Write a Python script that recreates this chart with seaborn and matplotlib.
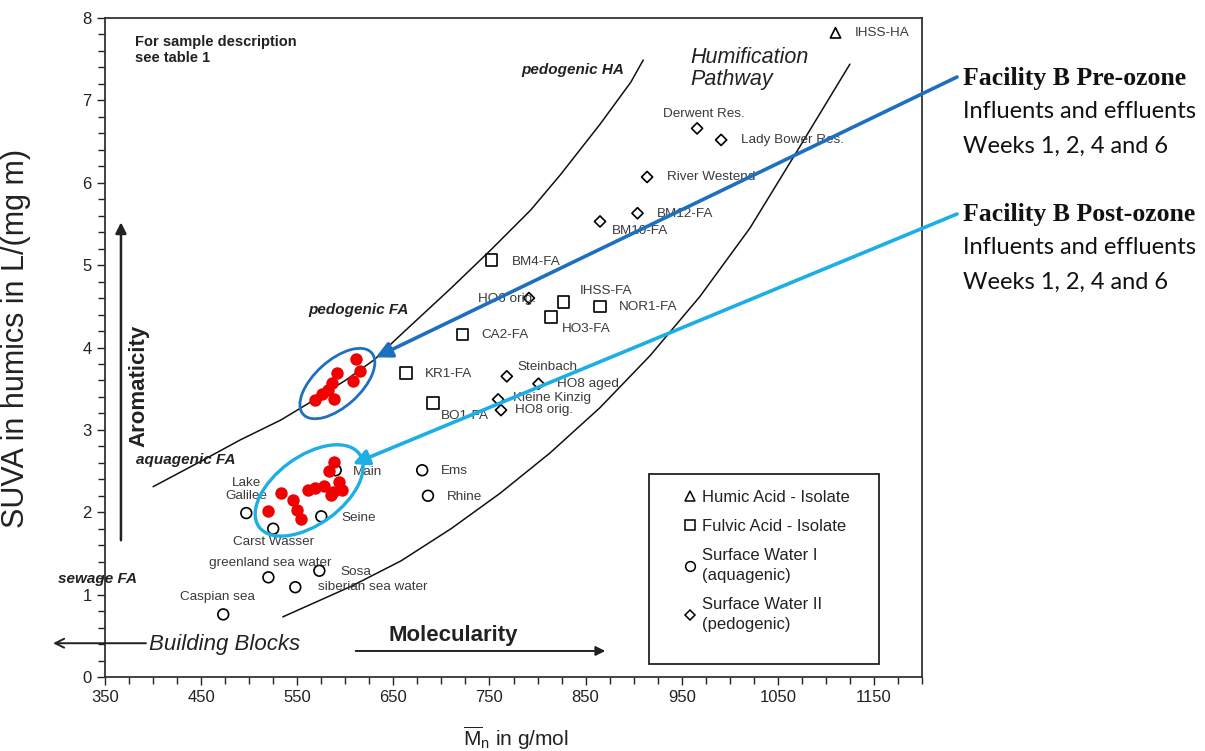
import numpy as np
import pandas as pd
import matplotlib
matplotlib.use("Agg")
import matplotlib.pyplot as plt
import matplotlib.transforms as mtransforms
from matplotlib.patches import Ellipse, Rectangle
from matplotlib.lines import Line2D
from matplotlib.ticker import MultipleLocator
import seaborn as sns

# ---------------- data ----------------
sample_names = ["IHSS-HA", "Derwent Res.", "Lady Bower Res.", "River Westend", "BM12-FA",
                "BM10-FA", "BM4-FA", "HO6 orig.", "IHSS-FA", "NOR1-FA", "HO3-FA", "CA2-FA",
                "KR1-FA", "BO1-FA", "Steinbach", "HO8 aged", "Kleine Kinzig", "HO8 orig.",
                "Ems", "Rhine", "Seine", "Main", "Lake Galilee", "Carst Wasser",
                "greenland sea water", "Sosa", "siberian sea water", "Caspian sea"]
sample_labels = ["IHSS-HA", "Derwent Res.", "Lady Bower Res.", "River Westend", "BM12-FA",
                 "BM10-FA", "BM4-FA", "HO6 orig.", "IHSS-FA", "NOR1-FA", "HO3-FA", "CA2-FA",
                 "KR1-FA", "BO1-FA", "Steinbach", "HO8 aged", "Kleine Kinzig", "HO8 orig.",
                 "Ems", "Rhine", "Seine", "Main", "Lake\nGalilee", "Carst Wasser",
                 "greenland sea water", "Sosa", "siberian sea water", "Caspian sea"]
sample_mn = [1110, 966, 991, 914, 904, 865, 752, 791, 827, 865, 814, 722, 663, 691,
             768, 801, 759, 762, 680, 686, 575, 590, 497, 525, 520, 573, 548, 473]
sample_suva = [7.82, 6.66, 6.52, 6.07, 5.63, 5.53, 5.06, 4.60, 4.55, 4.50, 4.37, 4.16,
               3.69, 3.33, 3.65, 3.56, 3.37, 3.24, 2.51, 2.20, 1.95, 2.51, 1.99, 1.80,
               1.21, 1.29, 1.09, 0.76]
HA, FA, SW1, SW2 = ("Humic Acid - Isolate", "Fulvic Acid - Isolate",
                    "Surface Water I\n(aquagenic)", "Surface Water II\n(pedogenic)")
sample_type = [HA, SW2, SW2, SW2, SW2, SW2, FA, SW2, FA, FA, FA, FA, FA, FA,
               SW2, SW2, SW2, SW2, SW1, SW1, SW1, SW1, SW1, SW1, SW1, SW1, SW1, SW1]

pre_mn = [611, 615, 608, 591, 586, 582, 588, 569, 576]
pre_suva = [3.86, 3.71, 3.59, 3.69, 3.57, 3.48, 3.37, 3.36, 3.43]
post_mn = [588, 583, 533, 520, 546, 550, 554, 561, 569, 578, 587, 593, 597, 585]
post_suva = [2.61, 2.50, 2.23, 2.01, 2.15, 2.03, 1.92, 2.27, 2.29, 2.32, 2.25, 2.37, 2.27, 2.21]

upper_curve_mn = [400, 450, 491, 533, 567, 600, 630, 661, 710, 751, 793, 824, 865, 897, 910]
upper_curve_suva = [2.31, 2.62, 2.88, 3.12, 3.36, 3.60, 3.85, 4.19, 4.72, 5.18, 5.67,
                    6.10, 6.71, 7.22, 7.49]
lower_curve_mn = [535, 606, 658, 710, 761, 813, 865, 917, 969, 1021, 1073, 1125]
lower_curve_suva = [0.73, 1.10, 1.41, 1.80, 2.23, 2.72, 3.27, 3.90, 4.62, 5.45, 6.44, 7.44]

x_ticks = [350, 450, 550, 650, 750, 850, 950, 1050, 1150]
y_ticks = [0, 1, 2, 3, 4, 5, 6, 7, 8]

# label offsets (pixels) and alignment for sample names
label_dx = [19, -34, 20, 20, 19, 12, 20, -51, 16, 19, 11, 19, 19, 8, 11, 19, 15, 14,
            19, 19, 20, 17, 0, 0, 2, 21, 23, -6]
label_dy = [0, 14, 0, 0, -1, -10, -2, -1, 11, -1, -12, -1, -1, -13, 9, 0, 1, 0,
            -1, -1, -2, -2, 24, -13, 14, -1, 0, 17]
label_ha = ["left"] * 22 + ["center", "center", "center", "left", "left", "center"]

df = pd.DataFrame({"name": sample_names, "Mn": sample_mn, "SUVA": sample_suva, "type": sample_type})
pre = pd.DataFrame({"Mn": pre_mn, "SUVA": pre_suva})
post = pd.DataFrame({"Mn": post_mn, "SUVA": post_suva})

# ---------------- style ----------------
sns.set_theme(style="ticks")
plt.rcParams["font.family"] = ["Liberation Sans", "DejaVu Sans"]
plt.rcParams["mathtext.fontset"] = "custom"
plt.rcParams["mathtext.rm"] = "Liberation Sans"
plt.rcParams["mathtext.it"] = "Liberation Sans:italic"

DARK = "#1f6fbf"
LIGHT = "#1eaee6"
TXT = "#222222"

fig = plt.figure(figsize=(12.05, 7.51), dpi=100)
ax = fig.add_axes([105 / 1205, 74 / 751, 817 / 1205, 659 / 751])

# boundary curves
sns.lineplot(x=upper_curve_mn, y=upper_curve_suva, ax=ax, color="#111111", lw=1.1,
             sort=False, estimator=None, legend=False)
sns.lineplot(x=lower_curve_mn, y=lower_curve_suva, ax=ax, color="#111111", lw=1.1,
             sort=False, estimator=None, legend=False)

# reference samples
markers = {HA: "^", FA: "s", SW1: "o", SW2: "D"}
sizes = {HA: 55, FA: 70, SW1: 60, SW2: 32}
sns.scatterplot(data=df, x="Mn", y="SUVA", style="type", markers=markers,
                size="type", sizes=sizes, color="white", edgecolor="black",
                linewidth=1.2, ax=ax, legend=False, zorder=3)

for name, lab, x, y, dx, dy, ha in zip(sample_names, sample_labels, sample_mn, sample_suva,
                                       label_dx, label_dy, label_ha):
    ax.annotate(lab, xy=(x, y), xytext=(dx, dy), textcoords="offset pixels",
                ha=ha, va="center", fontsize=9.7, color="#3a3a3a",
                linespacing=1.1, zorder=4)

# facility B samples
sns.scatterplot(data=pre, x="Mn", y="SUVA", color="#f00000", s=80, linewidth=0,
                ax=ax, legend=False, zorder=5)
sns.scatterplot(data=post, x="Mn", y="SUVA", color="#f00000", s=80, linewidth=0,
                ax=ax, legend=False, zorder=5)

# ellipses around clusters (size in pixels, centered on cluster mean)
def cluster_ellipse(cx, cy, w_px, h_px, angle, color, lw):
    tr = fig.dpi_scale_trans + mtransforms.ScaledTranslation(cx, cy, ax.transData)
    e = Ellipse((0, 0), w_px / 100, h_px / 100, angle=angle, fill=False,
                edgecolor=color, lw=lw, transform=tr, zorder=6)
    ax.add_patch(e)

cluster_ellipse(pre.Mn.mean(), pre.SUVA.mean(), 92, 46, 42, DARK, 2.0)
cluster_ellipse(post.Mn.mean() - 5, post.SUVA.mean() + 0.02, 124, 68, 36, LIGHT, 2.4)

# axes
ax.set_xlim(350, 1200)
ax.set_ylim(0, 8)
ax.set_xticks(x_ticks)
ax.set_yticks(y_ticks)
ax.xaxis.set_minor_locator(MultipleLocator(25))
ax.yaxis.set_minor_locator(MultipleLocator(0.2))
ax.tick_params(which="both", direction="out", color="#222", width=1.0, labelsize=12,
               labelcolor=TXT)
ax.tick_params(which="major", length=6)
ax.tick_params(which="minor", length=5)
for s in ax.spines.values():
    s.set_color("#333333")
    s.set_linewidth(1.3)

ax.set_xlabel(r"$\overline{\mathrm{M}}_\mathrm{n}$ in g/mol", fontsize=15, color=TXT)
ax.set_ylabel("SUVA in humics in L/(mg m)", fontsize=22, color=TXT)
ax.xaxis.set_label_coords(0.503, -0.072)
ax.yaxis.set_label_coords(-0.090, 0.513)

# annotations inside plot
ax.text(0.037, 0.974, "For sample description\nsee table 1", transform=ax.transAxes,
        ha="left", va="top", fontsize=10.5, fontweight="bold", color=TXT, linespacing=1.15)
ax.text(783, 7.37, "pedogenic HA", fontsize=11, fontweight="bold", style="italic",
        ha="left", va="center", color=TXT)
ax.text(959, 7.39, "Humification\nPathway", fontsize=15.5, style="italic",
        ha="left", va="center", color=TXT, linespacing=1.05)
ax.text(562, 4.45, "pedogenic FA", fontsize=11, fontweight="bold", style="italic",
        ha="left", va="center", color=TXT)
ax.text(382, 2.63, "aquagenic FA", fontsize=11, fontweight="bold", style="italic",
        ha="left", va="center", color=TXT)
ax.text(301, 1.19, "sewage FA", fontsize=11, fontweight="bold", style="italic",
        ha="left", va="center", color=TXT)
ax.text(385, 3.54, "Aromaticity", fontsize=16, fontweight="bold", rotation=90,
        ha="center", va="center", color=TXT)
ax.annotate("", xy=(366.6, 5.52), xytext=(366.6, 1.66),
            arrowprops=dict(arrowstyle="-|>", color="#222", lw=1.8, mutation_scale=16,
                            shrinkA=0, shrinkB=0))
ax.text(396, 0.39, "Building Blocks", fontsize=16, style="italic",
        ha="left", va="center", color=TXT)
ax.annotate("", xy=(296, 0.41), xytext=(392.6, 0.41), annotation_clip=False,
            arrowprops=dict(arrowstyle="->", color="#222", lw=1.4, mutation_scale=16,
                            shrinkA=0, shrinkB=0))
ax.text(712.6, 0.50, "Molecularity", fontsize=16, fontweight="bold",
        ha="center", va="center", color=TXT)
ax.annotate("", xy=(870.5, 0.316), xytext=(610.8, 0.316),
            arrowprops=dict(arrowstyle="-|>", color="#222", lw=1.4, mutation_scale=14,
                            shrinkA=0, shrinkB=0))

# legend
ax.add_patch(Rectangle((0.666, 0.0197), 0.2815, 0.288, transform=ax.transAxes,
                       fill=False, edgecolor="#222", lw=1.3, zorder=7))
handles = [Line2D([], [], ls="", marker=markers[t], mfc="white", mec="black",
                  mew=1.1, ms=ms) for t, ms in zip([HA, FA, SW1, SW2], [7, 7.5, 7, 5])]
leg = ax.legend(handles, [HA, FA, SW1, SW2], loc="upper left",
                bbox_to_anchor=(0.6995, 0.2964), frameon=False, fontsize=12,
                handlelength=0.6, handletextpad=0.45, labelspacing=0.85, borderpad=0)
for t in leg.get_texts():
    t.set_color(TXT)
    t.set_linespacing(1.4)

# blue pointer arrows from the side text
ax.annotate("", xy=(631.6, 3.88), xycoords="data", xytext=(957, 751 - 77),
            textcoords="figure pixels", annotation_clip=False,
            arrowprops=dict(arrowstyle="-|>", color=DARK, lw=2.6, mutation_scale=24,
                            shrinkA=0, shrinkB=0), zorder=8)
ax.annotate("", xy=(607.7, 2.585), xycoords="data", xytext=(957, 751 - 214),
            textcoords="figure pixels", annotation_clip=False,
            arrowprops=dict(arrowstyle="-|>", color=LIGHT, lw=2.6, mutation_scale=24,
                            shrinkA=0, shrinkB=0), zorder=8)

# side text
def ftext(x, y, s, **kw):
    fig.text(x / 1205, 1 - y / 751, s, ha="left", va="center", **kw)

ftext(963, 78, "Facility B Pre-ozone", family=["Liberation Serif"], fontweight="bold",
      fontsize=18.5, color="#111")
ftext(963, 112, "Influents and effluents", family=["Lato", "DejaVu Sans"], fontsize=17, color="#111")
ftext(963, 146, "Weeks 1, 2, 4 and 6", family=["Lato", "DejaVu Sans"], fontsize=17, color="#111")
ftext(963, 214, "Facility B Post-ozone", family=["Liberation Serif"], fontweight="bold",
      fontsize=18.5, color="#111")
ftext(963, 248, "Influents and effluents", family=["Lato", "DejaVu Sans"], fontsize=17, color="#111")
ftext(963, 282, "Weeks 1, 2, 4 and 6", family=["Lato", "DejaVu Sans"], fontsize=17, color="#111")

fig.savefig("out.png", dpi=100)
